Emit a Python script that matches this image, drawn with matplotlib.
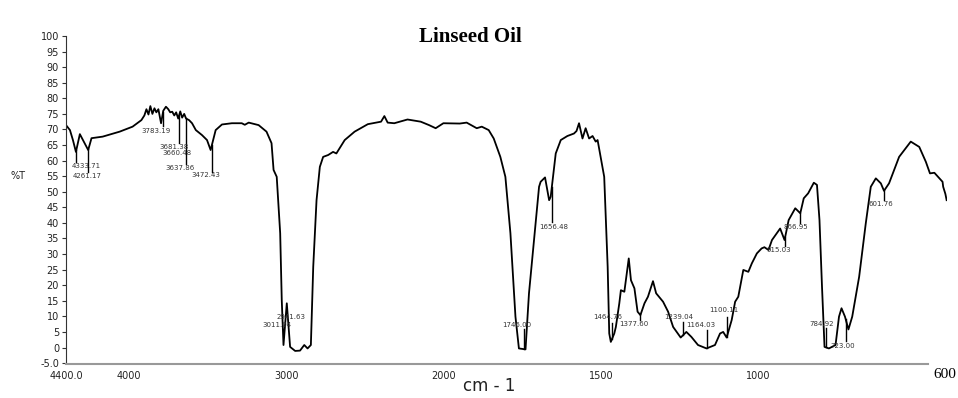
import numpy as np
import matplotlib
matplotlib.use("Agg")
from matplotlib import pyplot as plt

# spectrum: wavenumber (cm-1) and %T
wavenumber = [4400, 4375, 4356, 4337, 4312, 4259, 4238, 4167, 4059, 3977, 3921,
              3902, 3889, 3876, 3864, 3851, 3838, 3826, 3813, 3796, 3782, 3765,
              3750, 3738, 3725, 3712, 3700, 3687, 3674, 3662, 3649, 3637, 3618,
              3599, 3575, 3536, 3504, 3481, 3449, 3409, 3346, 3283, 3264, 3239,
              3176, 3126, 3094, 3081, 3061, 3039, 3029, 3018, 2997, 2976, 2944,
              2913, 2886, 2865, 2844, 2829, 2808, 2787, 2766, 2734, 2703, 2682,
              2629, 2566, 2482, 2398, 2377, 2356, 2314, 2230, 2146, 2093, 2051,
              2002, 1949, 1927, 1895, 1879, 1857, 1841, 1820, 1804, 1788, 1772,
              1761, 1740, 1729, 1713, 1697, 1692, 1678, 1665, 1660, 1644, 1628,
              1607, 1586, 1578, 1570, 1559, 1549, 1538, 1527, 1517, 1511, 1490,
              1479, 1474, 1469, 1458, 1453, 1442, 1437, 1426, 1412, 1405, 1394,
              1384, 1375, 1362, 1351, 1335, 1325, 1303, 1287, 1271, 1247, 1229,
              1213, 1192, 1165, 1138, 1122, 1112, 1101, 1085, 1074, 1064, 1048,
              1032, 1021, 1005, 990, 981, 968, 957, 931, 917, 904, 883, 867, 856,
              842, 824, 814, 806, 798, 790, 776, 755, 744, 736, 725, 714, 702,
              680, 659, 643, 627, 611, 601, 585, 553, 516, 489, 468, 455, 441,
              425, 415, 413, 406, 402]
transmittance = [71.4, 69.8, 66.6, 62.8, 68.5, 63.4, 67.2, 67.7, 69.3, 70.9, 73.0,
                 74.5, 76.5, 74.8, 77.5, 75.0, 76.8, 75.5, 76.5, 72.0, 76.0, 77.3,
                 76.5, 75.5, 75.7, 74.5, 75.5, 73.5, 75.8, 73.8, 75.0, 73.5, 73.0,
                 72.0, 69.8, 68.2, 66.6, 63.4, 69.8, 71.6, 72.0, 72.0, 71.5, 72.2,
                 71.4, 69.3, 65.6, 57.0, 54.8, 36.7, 15.2, 0.8, 14.2, 0.2, -1.1,
                 -1.0, 0.8, -0.3, 0.8, 25.9, 47.3, 58.0, 61.2, 61.8, 62.8, 62.3,
                 66.6, 69.3, 71.7, 72.5, 74.3, 72.2, 72.0, 73.2, 72.5, 71.4, 70.4,
                 72.0, 71.9, 72.2, 70.4, 70.9, 69.8, 67.1, 61.2, 54.8, 36.7, 9.9,
                 -0.3, -0.6, 17.4, 34.5, 51.6, 53.2, 54.6, 47.3, 48.4, 62.3, 66.6,
                 67.9, 68.7, 69.5, 72.0, 67.1, 70.4, 67.1, 67.9, 66.1, 66.6, 54.8,
                 25.9, 4.5, 1.8, 4.5, 6.6, 14.2, 18.4, 17.9, 28.6, 21.6, 19.0,
                 11.5, 10.4, 14.2, 16.3, 21.3, 17.4, 14.7, 11.5, 6.6, 3.2, 5.0,
                 3.4, 0.8, -0.3, 0.8, 4.5, 5.0, 3.2, 8.8, 14.7, 16.3, 24.9,
                 24.3, 27.0, 30.2, 31.8, 32.2, 31.3, 34.5, 38.2, 34.5, 40.9, 44.7, 43.1, 47.9,
                 49.5, 52.9, 52.2, 40.9, 19.5, 0.2, -0.3, 0.8, 9.9, 12.6, 9.9, 5.8, 9.9,
                 22.7, 39.8, 51.6, 54.3, 52.7, 50.3, 52.7, 61.2, 66.1, 64.4, 59.6, 55.9, 56.1,
                 54.3, 53.2, 51.6, 49.3, 47.3]

# peak labels: value, label position (left edge, centre) and end of the leader line
peak_values = [4333.71, 4261.17, 3783.19, 3681.38, 3660.48, 3637.86, 3472.43,
               2941.63, 3011.04, 1746.00, 1656.48, 1464.76, 1377.60, 1239.04,
               1164.03, 1100.11, 915.03, 866.95, 784.92, 723.00, 601.76]
label_x = [4362, 4356, 3921, 3807, 3788, 3769, 3605, 3063, 3151, 1815, 1696,
           1524, 1441, 1300, 1230, 1157, 974, 920, 837, 770, 649]
label_y = [58.2, 55.0, 69.5, 64.3, 62.4, 57.6, 55.3, 9.7, 7.2, 7.2, 38.6,
           9.8, 7.5, 9.8, 7.2, 12.0, 31.3, 38.7, 7.5, 0.4, 46.0]
leader_end = [59.5, 56.5, 71.0, 65.5, np.nan, 59.0, 56.5, np.nan, np.nan, 6.0, 40.3,
              8.0, 8.8, 8.2, 5.6, 9.8, 32.5, 40.0, 6.2, 2.0, 47.3]

xticks = [4400, 4000, 3000, 2000, 1500, 1000]
xtick_labels = ["4400.0", "4000", "3000", "2000", "1500", "1000"]
yticks = list(range(-5, 101, 5))
ytick_labels = ["-5.0"] + [str(v) for v in yticks[1:]]


# spectrometer axis: scale doubles below 2000 cm-1
def fwd(w):
    w = np.asarray(w, dtype=float)
    return np.where(w >= 2000, w - 4400, (w - 2000) * 2 - 2400)


def inv(t):
    t = np.asarray(t, dtype=float)
    return np.where(t >= -2400, t + 4400, (t + 2400) / 2 + 2000)


fig = plt.figure(figsize=(9.58, 3.98), dpi=100)
ax = fig.add_axes([0.0689, 0.0854, 0.9199, 0.8241])
ax.set_xscale("function", functions=(fwd, inv))
ax.set_xlim(4400, 400)
ax.set_ylim(-5.3, 100)

ax.plot(wavenumber, transmittance, color="black", lw=1.3)

wn_sorted = np.array(wavenumber[::-1])
tr_sorted = np.array(transmittance[::-1])
for val, lx, ly, le in zip(peak_values, label_x, label_y, leader_end):
    if not np.isnan(le):
        yc = np.interp(val, wn_sorted, tr_sorted)
        ax.plot([val, val], [yc, le], color="black", lw=1.0)
    ax.text(lx, ly, f"{val:.2f}", fontsize=5, color="#333333",
            ha="left", va="center", family="DejaVu Sans")

for s in ["top", "right"]:
    ax.spines[s].set_visible(False)
ax.spines["left"].set_color("#333333")
ax.spines["left"].set_bounds(-5, 100)
ax.spines["bottom"].set_color("#999999")
ax.spines["bottom"].set_linewidth(1.5)
ax.spines["bottom"].set_bounds(4400, 460)

ax.set_xticks(xticks)
ax.set_xticklabels(xtick_labels)
ax.set_yticks(yticks)
ax.set_yticklabels(ytick_labels)
ax.tick_params(axis="x", length=0, pad=5, labelsize=7, labelcolor="#222222")
ax.tick_params(axis="y", length=3, width=0.8, pad=2, labelsize=7,
               labelcolor="#222222", color="#333333")
ax.minorticks_off()

fig.text(0.491, 0.907, "Linseed Oil", family="Liberation Serif", fontweight="bold",
         fontsize=15, ha="center", va="center",
         bbox=dict(facecolor="white", edgecolor="none", pad=6))
fig.text(0.011, 0.558, "%T", fontsize=7, ha="left", va="center", color="#222222")
fig.text(0.511, 0.03, "cm - 1", fontsize=12, ha="center", va="center", color="#222222")
fig.text(0.986, 0.058, "600", family="Liberation Serif", fontsize=11,
         ha="center", va="center")

fig.savefig("out.png", dpi=100)
